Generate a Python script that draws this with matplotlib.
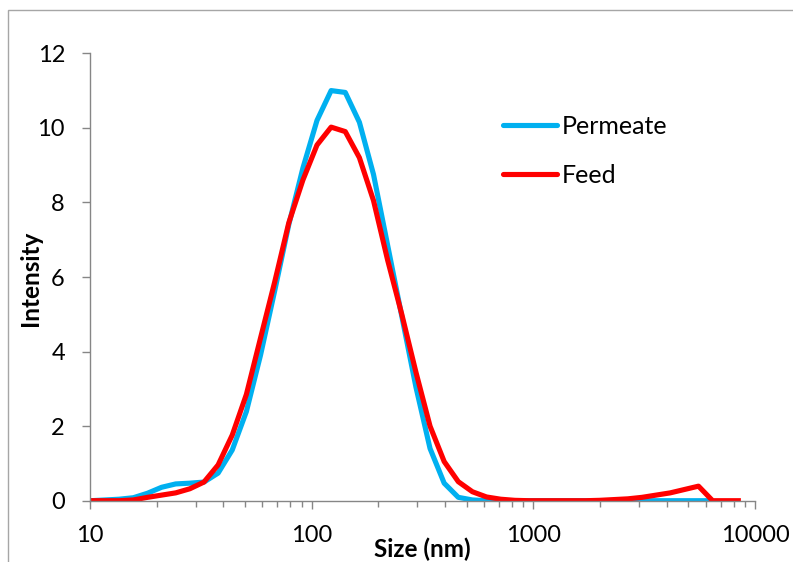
import matplotlib
matplotlib.use("Agg")
import matplotlib.pyplot as plt
from matplotlib.patches import Rectangle
from matplotlib.ticker import LogLocator, FixedLocator, NullFormatter

plt.rcParams['font.family'] = ['Lato', 'DejaVu Sans']

size_nm = [10.10, 11.70, 13.54, 15.69, 18.17, 21.04, 24.36, 28.21, 32.67, 37.84,
           43.82, 50.75, 58.77, 68.06, 78.82, 91.28, 105.7, 122.4, 141.8, 164.2,
           190.1, 220.2, 255.0, 295.3, 342.0, 396.1, 458.7, 531.2, 615.1, 712.4,
           825.0, 955.4, 1106, 1281, 1484, 1718, 1990, 2305, 2669, 3091,
           3580, 4145, 4801, 5560, 6439, 7456, 8635]

permeate = [0.0, 0.02, 0.04, 0.08, 0.20, 0.36, 0.45, 0.47, 0.50, 0.74,
            1.36, 2.39, 3.90, 5.62, 7.40, 8.92, 10.20, 11.00, 10.95, 10.15,
            8.75, 6.85, 4.95, 3.05, 1.40, 0.47, 0.09, 0.02, 0.0, 0.0,
            0.0, 0.0, 0.0, 0.0, 0.0, 0.0, 0.0, 0.0, 0.0, 0.0,
            0.0, 0.0, 0.0, 0.0, 0.0]

feed = [0.0, 0.0, 0.0, 0.02, 0.09, 0.15, 0.21, 0.32, 0.50, 0.96,
        1.76, 2.85, 4.36, 5.86, 7.45, 8.60, 9.54, 10.02, 9.90, 9.20,
        8.05, 6.45, 5.00, 3.45, 2.00, 1.05, 0.51, 0.24, 0.10, 0.04,
        0.01, 0.0, 0.0, 0.0, 0.0, 0.0, 0.01, 0.03, 0.05, 0.09,
        0.15, 0.21, 0.30, 0.39, 0.0, 0.0, 0.0]

x_ticks = [10, 100, 1000, 10000]
x_tick_labels = ["10", "100", "1000", "10000"]
y_ticks = [0, 2, 4, 6, 8, 10, 12]

W, H = 793, 562
fig = plt.figure(figsize=(W / 100, H / 100), dpi=100)
fig.patch.set_facecolor('white')
fig.patches.append(Rectangle((8 / W, -0.5), 2.0, 0.5 + (H - 10) / H,
                             transform=fig.transFigure, fill=False,
                             edgecolor='#A6A6A6', linewidth=1.0))

ax = fig.add_axes([90 / W, (H - 500.7) / H, (755 - 90) / W, (500.7 - 53.3) / H])
ax.plot(size_nm[:len(permeate)], permeate, color='#00B0F0', lw=3.7,
        solid_joinstyle='round', solid_capstyle='butt', label='Permeate')
ax.plot(size_nm, feed, color='#FF0000', lw=3.7,
        solid_joinstyle='round', solid_capstyle='butt', label='Feed')

ax.set_xscale('log')
ax.set_xlim(10, 10000)
ax.set_ylim(0, 12)
ax.xaxis.set_major_locator(FixedLocator(x_ticks))
ax.set_xticklabels(x_tick_labels)
ax.xaxis.set_minor_locator(LogLocator(base=10, subs=range(2, 10)))
ax.xaxis.set_minor_formatter(NullFormatter())
ax.set_yticks(y_ticks)

spine_c = '#868686'
for s in ['top', 'right']:
    ax.spines[s].set_visible(False)
for s in ['left', 'bottom']:
    ax.spines[s].set_color(spine_c)
    ax.spines[s].set_linewidth(1.0)

ax.tick_params(axis='both', which='major', direction='out', length=6,
               width=1.0, color=spine_c, labelsize=17, labelcolor='black')
ax.tick_params(axis='x', which='minor', direction='out', length=4.5,
               width=1.0, color=spine_c)
ax.tick_params(axis='x', which='major', pad=11.5)
ax.tick_params(axis='y', which='major', pad=12)

fig.text(422 / W, (H - 549) / H, 'Size (nm)', fontsize=17.5, fontweight='bold',
         ha='center', va='center')
fig.text(31 / W, (H - 278) / H, 'Intensity', fontsize=17.5, fontweight='bold',
         ha='center', va='center', rotation=90)

leg = ax.legend(loc='upper left', bbox_to_anchor=(503 / W, (H - 114.5) / H),
                bbox_transform=fig.transFigure, frameon=False, fontsize=18,
                handlelength=2.16, handletextpad=0.2, labelspacing=1.06,
                borderpad=0, borderaxespad=0)
for line in leg.get_lines():
    line.set_solid_capstyle('round')
    line.set_linewidth(3.7)

fig.savefig('out.png', dpi=100, facecolor='white')
